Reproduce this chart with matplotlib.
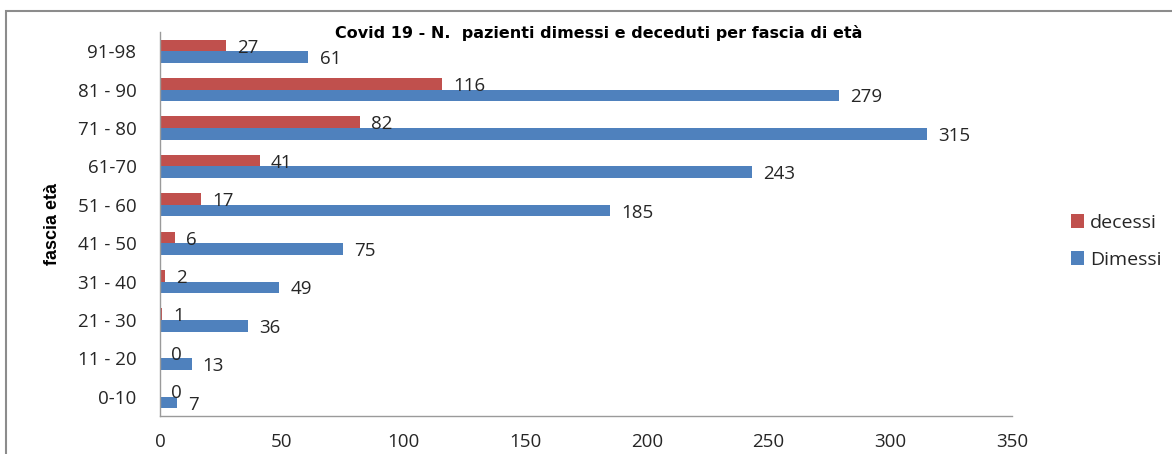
import matplotlib
matplotlib.use('Agg')
from matplotlib import pyplot as plt
from matplotlib.patches import Rectangle
import numpy as np

# Covid 19 - discharged and deceased patients per age band
fasce = ['0-10', '11 - 20', '21 - 30', '31 - 40', '41 - 50',
         '51 - 60', '61-70', '71 - 80', '81 - 90', '91-98']
dimessi = [7, 13, 36, 49, 75, 185, 243, 315, 279, 61]
decessi = [0, 0, 1, 2, 6, 17, 41, 82, 116, 27]

RED = '#C0504D'
BLUE = '#4F81BD'
TXT = '#262626'

plt.rcParams['font.family'] = ['Open Sans', 'DejaVu Sans']

fig = plt.figure(figsize=(11.72, 4.54), dpi=100)
# outer chart frame, like the Excel chart area
fig.patches.append(Rectangle((6 / 1172, -0.05), 1.1, (443 / 454) + 0.05,
                             transform=fig.transFigure, fill=False,
                             edgecolor='#8c8c8c', linewidth=1.5))

ax = fig.add_axes([160 / 1172, 38 / 454, 852 / 1172, 384 / 454])

y = np.arange(len(fasce))
h = 0.3
bars_r = ax.barh(y + h / 2, decessi, height=h, color=RED, label='decessi')
bars_b = ax.barh(y - h / 2, dimessi, height=h, color=BLUE, label='Dimessi')

for bars, vals in ((bars_r, decessi), (bars_b, dimessi)):
    for b, v in zip(bars, vals):
        ax.annotate(str(v), (b.get_width(), b.get_y() + b.get_height() / 2),
                    xytext=(8, -1.5), textcoords='offset points',
                    va='center', ha='left', fontsize=13.5, color=TXT)

ax.set_xlim(0, 350)
ax.set_ylim(-0.5, len(fasce) - 0.5)
ax.set_xticks(range(0, 351, 50))
ax.set_yticks(y)
ax.set_yticklabels(fasce)
ax.tick_params(axis='both', length=0, labelsize=13.5, colors=TXT)
ax.tick_params(axis='y', pad=17)
ax.tick_params(axis='x', pad=12)

for s in ('top', 'right'):
    ax.spines[s].set_visible(False)
for s in ('left', 'bottom'):
    ax.spines[s].set_color('#9a9a9a')
    ax.spines[s].set_linewidth(1.0)

ax.set_ylabel('fascia età', fontsize=13, fontweight='bold', color='black',
              family=['Liberation Sans Narrow', 'Liberation Sans'], va='center')
ax.yaxis.set_label_coords((53 - 160) / 852, 0.5)

ax.text(0.515, 0.997, 'Covid 19 - N.  pazienti dimessi e deceduti per fascia di età',
        transform=ax.transAxes, ha='center', va='center', fontsize=11.5,
        fontweight='bold', color='black', family=['DejaVu Sans'])

handles, labels = ax.get_legend_handles_labels()
fig.legend(handles, labels, loc='upper left',
           bbox_to_anchor=(1053 / 1172, 1 - 196 / 454), frameon=False,
           fontsize=14, handlelength=0.7, handleheight=0.7,
           handletextpad=0.3, labelspacing=1.0, labelcolor=TXT)

fig.savefig('out.png', dpi=100)
